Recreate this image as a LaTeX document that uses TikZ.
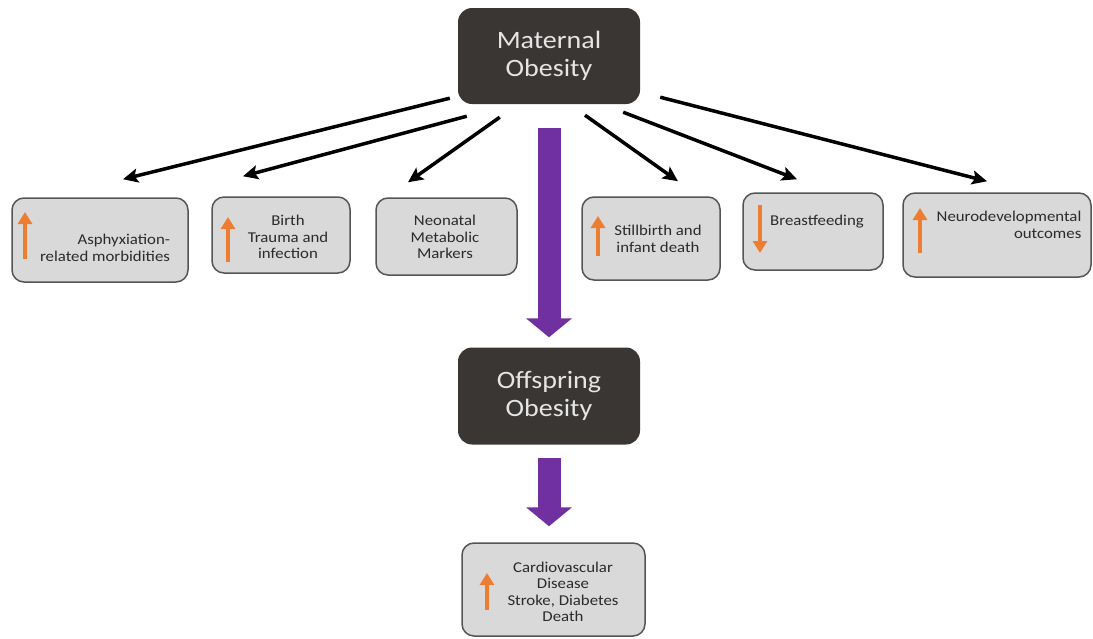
\documentclass[tikz,border=0pt]{standalone}
\usepackage{fontspec}
\setmainfont{Carlito}[FakeStretch=1.12]
\usetikzlibrary{arrows.meta}
\definecolor{darkcol}{HTML}{3A3634}
\definecolor{boxcol}{HTML}{D9D9D9}
\definecolor{rimcol}{HTML}{555555}
\definecolor{purplecol}{HTML}{7030A0}
\definecolor{orangecol}{HTML}{ED7D31}
\definecolor{txtcol}{HTML}{2B2B2B}
\tikzset{every picture/.style={x=1pt,y=-1pt}}
\tikzset{mainbox/.style={rectangle,rounded corners=14pt,fill=darkcol,text=white!90!black,minimum width=182pt,minimum height=96pt,align=center,font=\fontsize{25}{28}\selectfont}}
\tikzset{effect/.style={rectangle,rounded corners=12pt,draw=rimcol,line width=1.5pt,fill=boxcol}}
\tikzset{annot/.style={text=txtcol,font=\fontsize{15}{16.5}\selectfont,inner sep=0pt}}
\tikzset{link/.style={line width=3.5pt,-{Stealth[length=15pt,width=14pt,inset=3pt]}}}
\tikzset{fat/.style={purplecol,line width=23pt,-{Triangle[length=19pt,width=45pt]}}}
\tikzset{rise/.style={orangecol,line width=4.5pt,-{Triangle[length=12pt,width=14pt]}}}
\begin{document}
\begin{tikzpicture}
\useasboundingbox (0,0) rectangle (1093,638);
\node [mainbox] (maternal) at (549,56) {Maternal\\Obesity};
\node [mainbox,minimum height=97pt] (offspring) at (549,396) {Offspring\\Obesity};
\node [effect,minimum width=176pt,minimum height=84pt] (asphyx) at (100,240) {};
\node [effect,minimum width=138pt,minimum height=76pt] (birth) at (281,235) {};
\node [effect,minimum width=141pt,minimum height=77pt] (neonatal) at (446.5,236.5) {};
\node [effect,minimum width=138pt,minimum height=83pt] (still) at (651,238.5) {};
\node [effect,minimum width=140pt,minimum height=77pt] (breast) at (813,231.5) {};
\node [effect,minimum width=188pt,minimum height=84pt] (neuro) at (997,235) {};
\node [effect,minimum width=183pt,minimum height=93pt] (cardio) at (553.5,589.5) {};
\node [annot,align=right] (asphyx-txt) at (105,248) {Asphyxiation-\\related morbidities};
\node [annot,align=center] (birth-txt) at (288,237) {Birth\\Trauma and\\infection};
\node [annot,align=center] (neonatal-txt) at (445,237) {Neonatal\\Metabolic\\Markers};
\node [annot,align=center] (still-txt) at (658,239) {Stillbirth and\\infant death};
\node [annot] (breast-txt) at (817,222) {Breastfeeding};
\node [annot,align=right] (neuro-txt) at (1009,225) {Neurodevelopmental\\outcomes};
\node [annot,align=center] (cardio-txt) at (563,592) {Cardiovascular\\Disease\\Stroke, Diabetes\\Death};
\draw [rise] (25,259) -- (25,212);
\draw [rise] (228,262) -- (228,217);
\draw [rise] (598,256) -- (598,216);
\draw [rise] (760,205) -- (760,253);
\draw [rise] (920,253) -- (920,208);
\draw [rise] (487,610) -- (487,573);
\draw [link] ([shift={(-8,-6)}]maternal.south west) -- ([shift={(23,-18)}]asphyx.north);
\draw [link] ([shift={(9,12)}]maternal.south west) -- ([shift={(-38,-20)}]birth.north);
\draw [link] ([shift={(42,13)}]maternal.south west) -- ([shift={(-38.5,-15)}]neonatal.north);
\draw [link] ([shift={(36,11)}]maternal.south) -- ([shift={(27,-15)}]still.north);
\draw [link] ([shift={(-17,8)}]maternal.south east) -- ([shift={(-16,-13)}]breast.north);
\draw [link] ([shift={(20,-7)}]maternal.south east) -- ([shift={(-10,-11)}]neuro.north);
\draw [fat,shorten <=24pt,shorten >=10pt] (maternal) -- (offspring);
\draw [fat,shorten <=13.5pt,shorten >=16pt] (offspring.south) -- (offspring.south |- cardio.north);
\end{tikzpicture}
\end{document}
